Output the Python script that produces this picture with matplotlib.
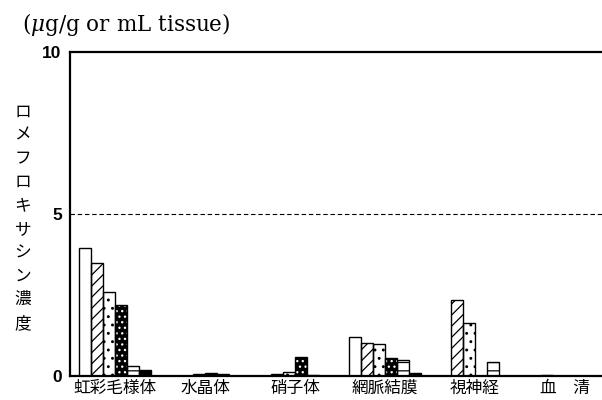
"""Lomefloxacin concentration in ocular tissues, six bars per tissue."""
import matplotlib
matplotlib.use("Agg")
import matplotlib.pyplot as plt
import numpy as np

plt.rcParams["font.family"] = ["Noto Sans CJK JP", "DejaVu Sans"]
plt.rcParams["mathtext.fontset"] = "dejavuserif"
plt.rcParams["hatch.linewidth"] = 0.9

TISSUES = ["虹彩毛様体", "水晶体", "硝子体", "網脈結膜", "視神経", "血\u3000清"]

# one list per bar pattern (µg/g or mL)
S_WHITE = [3.94, 0.01, 0.00, 1.20, 0.00, 0.00]
S_HATCH = [3.50, 0.01, 0.06, 1.01, 2.34, 0.02]
S_DOTS = [2.59, 0.06, 0.12, 1.00, 1.64, 0.00]
S_BLACKDOTS = [2.18, 0.08, 0.59, 0.55, 0.00, 0.00]
S_LINES = [0.32, 0.05, 0.04, 0.48, 0.42, 0.00]
S_BLACK = [0.19, 0.01, 0.01, 0.10, 0.00, 0.00]

YTICKS = [0, 5, 10]
YLABEL = "ロメフロキサシン濃度"
UNIT = r"($\mu$g/g or mL tissue)"

# facecolor, hatch, hatch colour
STYLES = [
    ("white", "", "black"),
    ("white", "///", "black"),
    ("white", "..", "black"),
    ("black", "...", "white"),
    ("white", "--", "black"),
    ("black", "", "black"),
]
SERIES = [S_WHITE, S_HATCH, S_DOTS, S_BLACKDOTS, S_LINES, S_BLACK]


def main():
    fig = plt.figure(figsize=(6.02, 4.0), dpi=100)
    ax = fig.add_axes([0.1163, 0.06, 0.8837, 0.81])

    x = np.arange(len(TISSUES))
    width = 0.8 / len(SERIES)
    for j, (values, (fc, hatch, hc)) in enumerate(zip(SERIES, STYLES)):
        pos = x + (j - 2.5) * width
        # hatch takes the edge colour, so draw the fill+hatch first, outline on top
        ax.bar(pos, values, width, color=fc, edgecolor=hc, hatch=hatch,
               linewidth=0, align="center", zorder=2)
        ax.bar(pos, values, width, fill=False, edgecolor="black",
               linewidth=1.0, align="center", zorder=3)

    ax.axhline(5, color="black", linewidth=0.8, linestyle=(0, (4, 2.5)), zorder=1)

    ax.set_xlim(-0.5, 5.41)
    ax.set_ylim(0, 10)
    ax.set_yticks(YTICKS)
    ax.set_yticklabels([str(t) for t in YTICKS], family="Liberation Sans",
                       fontsize=12.5, fontweight="bold")
    ax.set_xticks(x)
    ax.set_xticklabels(TISSUES, fontsize=12)
    ax.tick_params(axis="y", length=0, pad=6)
    ax.tick_params(axis="x", length=0, pad=3)

    ax.spines["right"].set_visible(False)
    for side in ("left", "bottom", "top"):
        ax.spines[side].set_linewidth(1.6)

    fig.text(0.038, 0.456, "\n".join(YLABEL), ha="center", va="center",
             fontsize=12, linespacing=1.5)
    fig.text(0.037, 0.94, UNIT, ha="left", va="center",
             family="DejaVu Serif", fontsize=15.5)

    fig.savefig("out.png", dpi=100, facecolor="white")
    plt.close(fig)


if __name__ == "__main__":
    main()
